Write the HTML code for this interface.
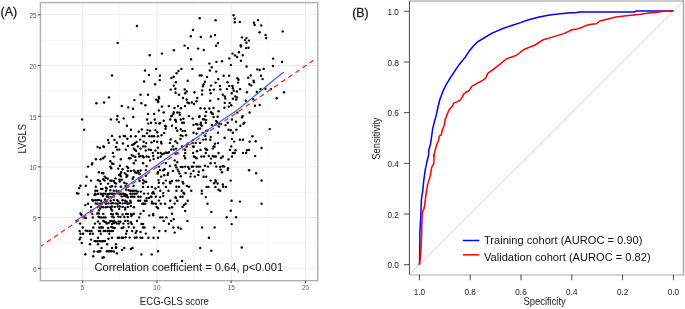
<!DOCTYPE html>
<html><head><meta charset="utf-8"><style>
html,body{margin:0;padding:0;background:#fff;width:685px;height:309px;overflow:hidden}
svg{display:block;font-family:"Liberation Sans",sans-serif;will-change:transform}
</style></head><body>
<svg width="685" height="309" viewBox="0 0 685 309">
<rect width="685" height="309" fill="#fff"/>
<line x1="45.45" y1="2.6" x2="45.45" y2="280.7" stroke="#f2f2f2" stroke-width="0.6"/>
<line x1="119.75" y1="2.6" x2="119.75" y2="280.7" stroke="#f2f2f2" stroke-width="0.6"/>
<line x1="194.05" y1="2.6" x2="194.05" y2="280.7" stroke="#f2f2f2" stroke-width="0.6"/>
<line x1="268.35" y1="2.6" x2="268.35" y2="280.7" stroke="#f2f2f2" stroke-width="0.6"/>
<line x1="40.4" y1="242.95" x2="317.8" y2="242.95" stroke="#f2f2f2" stroke-width="0.6"/>
<line x1="40.4" y1="192.25" x2="317.8" y2="192.25" stroke="#f2f2f2" stroke-width="0.6"/>
<line x1="40.4" y1="141.55" x2="317.8" y2="141.55" stroke="#f2f2f2" stroke-width="0.6"/>
<line x1="40.4" y1="90.85" x2="317.8" y2="90.85" stroke="#f2f2f2" stroke-width="0.6"/>
<line x1="40.4" y1="40.15" x2="317.8" y2="40.15" stroke="#f2f2f2" stroke-width="0.6"/>
<line x1="82.60" y1="2.6" x2="82.60" y2="280.7" stroke="#ebebeb" stroke-width="1"/>
<line x1="156.90" y1="2.6" x2="156.90" y2="280.7" stroke="#ebebeb" stroke-width="1"/>
<line x1="231.20" y1="2.6" x2="231.20" y2="280.7" stroke="#ebebeb" stroke-width="1"/>
<line x1="305.50" y1="2.6" x2="305.50" y2="280.7" stroke="#ebebeb" stroke-width="1"/>
<line x1="40.4" y1="268.30" x2="317.8" y2="268.30" stroke="#ebebeb" stroke-width="1"/>
<line x1="40.4" y1="217.60" x2="317.8" y2="217.60" stroke="#ebebeb" stroke-width="1"/>
<line x1="40.4" y1="166.90" x2="317.8" y2="166.90" stroke="#ebebeb" stroke-width="1"/>
<line x1="40.4" y1="116.20" x2="317.8" y2="116.20" stroke="#ebebeb" stroke-width="1"/>
<line x1="40.4" y1="65.50" x2="317.8" y2="65.50" stroke="#ebebeb" stroke-width="1"/>
<line x1="40.4" y1="14.80" x2="317.8" y2="14.80" stroke="#ebebeb" stroke-width="1"/>
<g fill="#000">
<circle cx="136.9" cy="26.0" r="1.2"/><circle cx="117.7" cy="42.9" r="1.2"/><circle cx="149.7" cy="55.2" r="1.2"/><circle cx="162.0" cy="53.6" r="1.2"/><circle cx="199.7" cy="18.2" r="1.2"/><circle cx="215.6" cy="20.3" r="1.2"/><circle cx="193.0" cy="29.9" r="1.2"/><circle cx="190.8" cy="36.2" r="1.2"/><circle cx="200.8" cy="37.0" r="1.2"/><circle cx="210.9" cy="36.5" r="1.2"/><circle cx="215.0" cy="35.1" r="1.2"/><circle cx="217.9" cy="43.1" r="1.2"/><circle cx="216.1" cy="45.8" r="1.2"/><circle cx="184.6" cy="45.6" r="1.2"/><circle cx="188.0" cy="48.1" r="1.2"/><circle cx="198.1" cy="48.6" r="1.2"/><circle cx="203.8" cy="50.0" r="1.2"/><circle cx="173.9" cy="50.2" r="1.2"/><circle cx="191.0" cy="59.3" r="1.2"/><circle cx="229.3" cy="58.4" r="1.2"/><circle cx="233.6" cy="15.2" r="1.2"/><circle cx="234.6" cy="18.7" r="1.2"/><circle cx="234.8" cy="22.3" r="1.2"/><circle cx="239.8" cy="21.9" r="1.2"/><circle cx="254.0" cy="22.8" r="1.2"/><circle cx="254.6" cy="24.9" r="1.2"/><circle cx="258.0" cy="20.1" r="1.2"/><circle cx="261.2" cy="25.5" r="1.2"/><circle cx="259.6" cy="32.3" r="1.2"/><circle cx="265.6" cy="34.9" r="1.2"/><circle cx="266.2" cy="38.0" r="1.2"/><circle cx="282.7" cy="31.4" r="1.2"/><circle cx="241.9" cy="37.4" r="1.2"/><circle cx="245.0" cy="40.1" r="1.2"/><circle cx="246.4" cy="38.1" r="1.2"/><circle cx="246.4" cy="42.8" r="1.2"/><circle cx="248.9" cy="40.6" r="1.2"/><circle cx="240.7" cy="45.3" r="1.2"/><circle cx="241.0" cy="46.5" r="1.2"/><circle cx="246.0" cy="48.1" r="1.2"/><circle cx="248.5" cy="47.7" r="1.2"/><circle cx="238.9" cy="52.2" r="1.2"/><circle cx="232.5" cy="53.6" r="1.2"/><circle cx="235.0" cy="55.4" r="1.2"/><circle cx="237.1" cy="57.0" r="1.2"/><circle cx="242.8" cy="55.2" r="1.2"/><circle cx="273.1" cy="58.6" r="1.2"/><circle cx="112.0" cy="75.5" r="1.2"/><circle cx="109.0" cy="97.4" r="1.2"/><circle cx="104.0" cy="102.5" r="1.2"/><circle cx="96.4" cy="103.3" r="1.2"/><circle cx="121.8" cy="105.9" r="1.2"/><circle cx="128.2" cy="107.4" r="1.2"/><circle cx="145.0" cy="70.5" r="1.2"/><circle cx="156.2" cy="68.9" r="1.2"/><circle cx="148.9" cy="74.9" r="1.2"/><circle cx="159.9" cy="75.7" r="1.2"/><circle cx="144.1" cy="81.5" r="1.2"/><circle cx="159.8" cy="80.1" r="1.2"/><circle cx="155.1" cy="84.3" r="1.2"/><circle cx="181.4" cy="68.9" r="1.2"/><circle cx="178.5" cy="71.0" r="1.2"/><circle cx="176.6" cy="73.3" r="1.2"/><circle cx="173.7" cy="76.7" r="1.2"/><circle cx="171.4" cy="78.0" r="1.2"/><circle cx="175.9" cy="82.2" r="1.2"/><circle cx="187.7" cy="80.7" r="1.2"/><circle cx="173.8" cy="85.6" r="1.2"/><circle cx="170.8" cy="89.6" r="1.2"/><circle cx="175.4" cy="88.8" r="1.2"/><circle cx="175.6" cy="92.8" r="1.2"/><circle cx="179.0" cy="94.8" r="1.2"/><circle cx="184.7" cy="89.4" r="1.2"/><circle cx="186.6" cy="91.5" r="1.2"/><circle cx="185.1" cy="93.2" r="1.2"/><circle cx="183.0" cy="98.0" r="1.2"/><circle cx="186.6" cy="99.5" r="1.2"/><circle cx="187.4" cy="102.4" r="1.2"/><circle cx="140.5" cy="94.8" r="1.2"/><circle cx="148.0" cy="94.8" r="1.2"/><circle cx="134.4" cy="100.1" r="1.2"/><circle cx="141.3" cy="103.3" r="1.2"/><circle cx="145.4" cy="105.3" r="1.2"/><circle cx="132.9" cy="108.8" r="1.2"/><circle cx="158.8" cy="96.9" r="1.2"/><circle cx="159.1" cy="98.5" r="1.2"/><circle cx="156.2" cy="99.6" r="1.2"/><circle cx="158.0" cy="100.8" r="1.2"/><circle cx="158.3" cy="102.0" r="1.2"/><circle cx="161.9" cy="106.6" r="1.2"/><circle cx="168.8" cy="106.1" r="1.2"/><circle cx="174.5" cy="108.0" r="1.2"/><circle cx="178.0" cy="106.1" r="1.2"/><circle cx="180.9" cy="108.2" r="1.2"/><circle cx="185.0" cy="106.1" r="1.2"/><circle cx="189.0" cy="103.3" r="1.2"/><circle cx="209.4" cy="63.6" r="1.2"/><circle cx="216.4" cy="61.9" r="1.2"/><circle cx="222.0" cy="61.3" r="1.2"/><circle cx="211.8" cy="67.3" r="1.2"/><circle cx="209.9" cy="70.5" r="1.2"/><circle cx="216.2" cy="71.6" r="1.2"/><circle cx="192.4" cy="68.9" r="1.2"/><circle cx="230.9" cy="64.9" r="1.2"/><circle cx="240.9" cy="60.8" r="1.2"/><circle cx="246.6" cy="66.5" r="1.2"/><circle cx="199.7" cy="75.5" r="1.2"/><circle cx="201.6" cy="75.5" r="1.2"/><circle cx="207.0" cy="77.0" r="1.2"/><circle cx="223.6" cy="75.7" r="1.2"/><circle cx="229.1" cy="75.7" r="1.2"/><circle cx="218.3" cy="79.1" r="1.2"/><circle cx="237.4" cy="78.3" r="1.2"/><circle cx="238.5" cy="79.7" r="1.2"/><circle cx="248.2" cy="77.8" r="1.2"/><circle cx="204.9" cy="81.8" r="1.2"/><circle cx="203.7" cy="84.3" r="1.2"/><circle cx="202.9" cy="86.2" r="1.2"/><circle cx="211.0" cy="85.6" r="1.2"/><circle cx="215.6" cy="82.6" r="1.2"/><circle cx="219.9" cy="85.9" r="1.2"/><circle cx="227.5" cy="82.2" r="1.2"/><circle cx="229.3" cy="85.9" r="1.2"/><circle cx="232.4" cy="85.9" r="1.2"/><circle cx="238.0" cy="82.6" r="1.2"/><circle cx="249.4" cy="84.3" r="1.2"/><circle cx="202.1" cy="90.4" r="1.2"/><circle cx="209.9" cy="89.9" r="1.2"/><circle cx="210.7" cy="93.2" r="1.2"/><circle cx="213.9" cy="89.6" r="1.2"/><circle cx="220.4" cy="89.4" r="1.2"/><circle cx="226.9" cy="89.1" r="1.2"/><circle cx="232.9" cy="88.3" r="1.2"/><circle cx="233.7" cy="90.7" r="1.2"/><circle cx="236.9" cy="91.5" r="1.2"/><circle cx="240.1" cy="89.1" r="1.2"/><circle cx="194.5" cy="92.3" r="1.2"/><circle cx="202.1" cy="94.4" r="1.2"/><circle cx="222.8" cy="94.8" r="1.2"/><circle cx="224.8" cy="96.4" r="1.2"/><circle cx="225.3" cy="98.5" r="1.2"/><circle cx="218.3" cy="99.1" r="1.2"/><circle cx="231.7" cy="93.2" r="1.2"/><circle cx="235.3" cy="96.4" r="1.2"/><circle cx="236.9" cy="97.5" r="1.2"/><circle cx="232.9" cy="98.8" r="1.2"/><circle cx="236.1" cy="99.6" r="1.2"/><circle cx="246.9" cy="92.3" r="1.2"/><circle cx="197.3" cy="98.0" r="1.2"/><circle cx="196.5" cy="101.2" r="1.2"/><circle cx="210.2" cy="100.8" r="1.2"/><circle cx="194.0" cy="104.0" r="1.2"/><circle cx="191.9" cy="102.4" r="1.2"/><circle cx="224.8" cy="102.9" r="1.2"/><circle cx="229.6" cy="102.9" r="1.2"/><circle cx="231.2" cy="105.3" r="1.2"/><circle cx="224.4" cy="107.7" r="1.2"/><circle cx="209.4" cy="108.5" r="1.2"/><circle cx="204.6" cy="108.5" r="1.2"/><circle cx="200.5" cy="108.2" r="1.2"/><circle cx="213.5" cy="108.0" r="1.2"/><circle cx="228.8" cy="106.6" r="1.2"/><circle cx="245.8" cy="100.8" r="1.2"/><circle cx="282.0" cy="61.9" r="1.2"/><circle cx="273.0" cy="66.0" r="1.2"/><circle cx="257.3" cy="69.4" r="1.2"/><circle cx="259.7" cy="70.0" r="1.2"/><circle cx="263.7" cy="68.9" r="1.2"/><circle cx="250.8" cy="75.4" r="1.2"/><circle cx="261.0" cy="75.7" r="1.2"/><circle cx="262.6" cy="79.1" r="1.2"/><circle cx="253.6" cy="80.7" r="1.2"/><circle cx="254.0" cy="82.2" r="1.2"/><circle cx="251.3" cy="85.4" r="1.2"/><circle cx="260.5" cy="89.1" r="1.2"/><circle cx="265.4" cy="88.8" r="1.2"/><circle cx="271.0" cy="89.1" r="1.2"/><circle cx="256.8" cy="92.0" r="1.2"/><circle cx="284.0" cy="92.3" r="1.2"/><circle cx="276.7" cy="98.3" r="1.2"/><circle cx="253.2" cy="99.3" r="1.2"/><circle cx="254.9" cy="105.8" r="1.2"/><circle cx="259.7" cy="105.0" r="1.2"/><circle cx="82.1" cy="119.4" r="1.2"/><circle cx="84.2" cy="129.7" r="1.2"/><circle cx="110.9" cy="119.4" r="1.2"/><circle cx="117.4" cy="116.0" r="1.2"/><circle cx="116.9" cy="119.4" r="1.2"/><circle cx="118.8" cy="122.1" r="1.2"/><circle cx="123.7" cy="118.4" r="1.2"/><circle cx="126.9" cy="125.8" r="1.2"/><circle cx="112.0" cy="135.9" r="1.2"/><circle cx="108.0" cy="139.9" r="1.2"/><circle cx="108.8" cy="142.8" r="1.2"/><circle cx="114.5" cy="139.9" r="1.2"/><circle cx="116.9" cy="142.8" r="1.2"/><circle cx="119.8" cy="136.7" r="1.2"/><circle cx="123.7" cy="135.9" r="1.2"/><circle cx="125.0" cy="136.2" r="1.2"/><circle cx="127.4" cy="138.8" r="1.2"/><circle cx="123.0" cy="143.5" r="1.2"/><circle cx="97.5" cy="146.9" r="1.2"/><circle cx="99.9" cy="148.0" r="1.2"/><circle cx="103.2" cy="146.4" r="1.2"/><circle cx="104.0" cy="146.9" r="1.2"/><circle cx="116.1" cy="146.9" r="1.2"/><circle cx="117.2" cy="149.6" r="1.2"/><circle cx="119.3" cy="149.6" r="1.2"/><circle cx="125.8" cy="149.6" r="1.2"/><circle cx="127.9" cy="145.9" r="1.2"/><circle cx="112.9" cy="152.9" r="1.2"/><circle cx="113.7" cy="156.6" r="1.2"/><circle cx="104.8" cy="156.6" r="1.2"/><circle cx="103.2" cy="158.2" r="1.2"/><circle cx="100.7" cy="159.3" r="1.2"/><circle cx="95.9" cy="159.3" r="1.2"/><circle cx="120.9" cy="159.3" r="1.2"/><circle cx="129.0" cy="158.2" r="1.2"/><circle cx="158.9" cy="110.4" r="1.2"/><circle cx="148.0" cy="113.9" r="1.2"/><circle cx="154.1" cy="113.9" r="1.2"/><circle cx="163.7" cy="112.5" r="1.2"/><circle cx="133.3" cy="117.0" r="1.2"/><circle cx="147.1" cy="119.5" r="1.2"/><circle cx="154.7" cy="119.5" r="1.2"/><circle cx="163.7" cy="120.7" r="1.2"/><circle cx="148.2" cy="123.6" r="1.2"/><circle cx="151.0" cy="122.7" r="1.2"/><circle cx="155.8" cy="123.1" r="1.2"/><circle cx="159.3" cy="123.6" r="1.2"/><circle cx="160.2" cy="123.0" r="1.2"/><circle cx="165.0" cy="125.8" r="1.2"/><circle cx="165.9" cy="126.5" r="1.2"/><circle cx="165.5" cy="128.8" r="1.2"/><circle cx="172.0" cy="125.8" r="1.2"/><circle cx="170.3" cy="119.5" r="1.2"/><circle cx="173.8" cy="112.2" r="1.2"/><circle cx="173.4" cy="113.9" r="1.2"/><circle cx="172.0" cy="115.7" r="1.2"/><circle cx="171.2" cy="116.3" r="1.2"/><circle cx="177.3" cy="112.5" r="1.2"/><circle cx="179.5" cy="112.6" r="1.2"/><circle cx="179.9" cy="114.8" r="1.2"/><circle cx="175.5" cy="120.3" r="1.2"/><circle cx="176.0" cy="121.8" r="1.2"/><circle cx="175.1" cy="119.6" r="1.2"/><circle cx="180.8" cy="119.5" r="1.2"/><circle cx="183.4" cy="118.8" r="1.2"/><circle cx="182.1" cy="122.7" r="1.2"/><circle cx="183.9" cy="122.7" r="1.2"/><circle cx="176.0" cy="128.0" r="1.2"/><circle cx="177.3" cy="130.8" r="1.2"/><circle cx="180.8" cy="129.3" r="1.2"/><circle cx="182.6" cy="131.0" r="1.2"/><circle cx="185.2" cy="131.0" r="1.2"/><circle cx="180.8" cy="135.3" r="1.2"/><circle cx="186.1" cy="135.3" r="1.2"/><circle cx="188.9" cy="116.1" r="1.2"/><circle cx="130.9" cy="129.7" r="1.2"/><circle cx="138.8" cy="131.7" r="1.2"/><circle cx="141.8" cy="129.4" r="1.2"/><circle cx="147.5" cy="130.1" r="1.2"/><circle cx="150.1" cy="130.8" r="1.2"/><circle cx="147.1" cy="133.2" r="1.2"/><circle cx="155.4" cy="130.1" r="1.2"/><circle cx="157.2" cy="132.3" r="1.2"/><circle cx="161.5" cy="135.3" r="1.2"/><circle cx="164.2" cy="132.9" r="1.2"/><circle cx="130.9" cy="136.3" r="1.2"/><circle cx="135.7" cy="136.3" r="1.2"/><circle cx="142.7" cy="136.1" r="1.2"/><circle cx="144.5" cy="136.1" r="1.2"/><circle cx="149.4" cy="136.3" r="1.2"/><circle cx="151.9" cy="136.3" r="1.2"/><circle cx="154.1" cy="136.3" r="1.2"/><circle cx="158.0" cy="136.3" r="1.2"/><circle cx="182.6" cy="136.1" r="1.2"/><circle cx="140.1" cy="139.6" r="1.2"/><circle cx="143.6" cy="141.8" r="1.2"/><circle cx="146.2" cy="143.1" r="1.2"/><circle cx="151.5" cy="142.4" r="1.2"/><circle cx="154.1" cy="141.0" r="1.2"/><circle cx="157.2" cy="141.8" r="1.2"/><circle cx="161.1" cy="142.0" r="1.2"/><circle cx="161.5" cy="143.6" r="1.2"/><circle cx="133.5" cy="144.2" r="1.2"/><circle cx="134.8" cy="143.3" r="1.2"/><circle cx="136.6" cy="142.0" r="1.2"/><circle cx="132.2" cy="145.1" r="1.2"/><circle cx="137.9" cy="146.4" r="1.2"/><circle cx="143.1" cy="146.4" r="1.2"/><circle cx="145.3" cy="146.4" r="1.2"/><circle cx="140.5" cy="148.6" r="1.2"/><circle cx="133.9" cy="148.6" r="1.2"/><circle cx="134.8" cy="149.9" r="1.2"/><circle cx="136.1" cy="150.8" r="1.2"/><circle cx="145.8" cy="150.6" r="1.2"/><circle cx="148.8" cy="149.5" r="1.2"/><circle cx="151.0" cy="149.9" r="1.2"/><circle cx="155.4" cy="150.6" r="1.2"/><circle cx="158.0" cy="147.7" r="1.2"/><circle cx="152.8" cy="153.0" r="1.2"/><circle cx="158.0" cy="153.0" r="1.2"/><circle cx="160.7" cy="153.0" r="1.2"/><circle cx="131.8" cy="155.1" r="1.2"/><circle cx="133.5" cy="156.0" r="1.2"/><circle cx="135.3" cy="156.9" r="1.2"/><circle cx="138.8" cy="153.8" r="1.2"/><circle cx="139.2" cy="156.5" r="1.2"/><circle cx="140.5" cy="156.0" r="1.2"/><circle cx="142.7" cy="156.0" r="1.2"/><circle cx="143.6" cy="157.3" r="1.2"/><circle cx="146.6" cy="156.5" r="1.2"/><circle cx="148.8" cy="156.9" r="1.2"/><circle cx="153.2" cy="156.0" r="1.2"/><circle cx="153.6" cy="159.1" r="1.2"/><circle cx="158.0" cy="157.8" r="1.2"/><circle cx="160.7" cy="156.5" r="1.2"/><circle cx="162.4" cy="154.3" r="1.2"/><circle cx="164.2" cy="153.4" r="1.2"/><circle cx="165.9" cy="152.5" r="1.2"/><circle cx="167.7" cy="153.0" r="1.2"/><circle cx="169.0" cy="152.1" r="1.2"/><circle cx="171.2" cy="149.5" r="1.2"/><circle cx="172.9" cy="146.4" r="1.2"/><circle cx="173.8" cy="149.5" r="1.2"/><circle cx="176.0" cy="148.6" r="1.2"/><circle cx="170.7" cy="139.4" r="1.2"/><circle cx="169.9" cy="142.9" r="1.2"/><circle cx="175.5" cy="141.3" r="1.2"/><circle cx="177.3" cy="143.1" r="1.2"/><circle cx="180.4" cy="138.9" r="1.2"/><circle cx="182.1" cy="146.4" r="1.2"/><circle cx="185.2" cy="149.9" r="1.2"/><circle cx="186.9" cy="146.4" r="1.2"/><circle cx="185.2" cy="153.0" r="1.2"/><circle cx="184.3" cy="156.0" r="1.2"/><circle cx="185.2" cy="158.2" r="1.2"/><circle cx="187.8" cy="143.8" r="1.2"/><circle cx="175.5" cy="153.8" r="1.2"/><circle cx="177.3" cy="153.2" r="1.2"/><circle cx="130.4" cy="158.2" r="1.2"/><circle cx="206.2" cy="111.9" r="1.2"/><circle cx="211.0" cy="112.2" r="1.2"/><circle cx="212.3" cy="113.5" r="1.2"/><circle cx="212.8" cy="113.9" r="1.2"/><circle cx="218.5" cy="111.3" r="1.2"/><circle cx="199.6" cy="116.1" r="1.2"/><circle cx="199.2" cy="117.0" r="1.2"/><circle cx="205.3" cy="116.0" r="1.2"/><circle cx="213.6" cy="117.0" r="1.2"/><circle cx="217.6" cy="116.8" r="1.2"/><circle cx="192.6" cy="118.6" r="1.2"/><circle cx="203.1" cy="119.2" r="1.2"/><circle cx="204.5" cy="119.6" r="1.2"/><circle cx="206.2" cy="120.1" r="1.2"/><circle cx="200.9" cy="122.7" r="1.2"/><circle cx="205.8" cy="122.7" r="1.2"/><circle cx="200.5" cy="124.5" r="1.2"/><circle cx="201.8" cy="125.8" r="1.2"/><circle cx="193.5" cy="124.9" r="1.2"/><circle cx="196.1" cy="124.0" r="1.2"/><circle cx="197.4" cy="124.5" r="1.2"/><circle cx="216.3" cy="120.9" r="1.2"/><circle cx="217.2" cy="122.3" r="1.2"/><circle cx="218.9" cy="123.6" r="1.2"/><circle cx="221.1" cy="124.0" r="1.2"/><circle cx="211.9" cy="125.1" r="1.2"/><circle cx="215.8" cy="124.5" r="1.2"/><circle cx="218.9" cy="126.6" r="1.2"/><circle cx="225.5" cy="125.1" r="1.2"/><circle cx="227.7" cy="122.7" r="1.2"/><circle cx="232.0" cy="119.5" r="1.2"/><circle cx="236.0" cy="121.8" r="1.2"/><circle cx="242.6" cy="116.1" r="1.2"/><circle cx="242.1" cy="117.4" r="1.2"/><circle cx="244.3" cy="122.7" r="1.2"/><circle cx="243.4" cy="123.8" r="1.2"/><circle cx="240.4" cy="125.8" r="1.2"/><circle cx="237.3" cy="112.6" r="1.2"/><circle cx="249.6" cy="112.5" r="1.2"/><circle cx="198.3" cy="128.8" r="1.2"/><circle cx="200.1" cy="128.4" r="1.2"/><circle cx="206.2" cy="131.0" r="1.2"/><circle cx="207.5" cy="130.6" r="1.2"/><circle cx="228.5" cy="129.7" r="1.2"/><circle cx="230.7" cy="130.3" r="1.2"/><circle cx="232.9" cy="132.8" r="1.2"/><circle cx="236.4" cy="129.7" r="1.2"/><circle cx="218.0" cy="132.8" r="1.2"/><circle cx="193.5" cy="132.8" r="1.2"/><circle cx="196.6" cy="133.8" r="1.2"/><circle cx="202.7" cy="132.9" r="1.2"/><circle cx="205.3" cy="136.1" r="1.2"/><circle cx="210.8" cy="136.9" r="1.2"/><circle cx="203.1" cy="139.6" r="1.2"/><circle cx="205.8" cy="139.4" r="1.2"/><circle cx="210.3" cy="139.8" r="1.2"/><circle cx="193.1" cy="140.1" r="1.2"/><circle cx="195.7" cy="142.9" r="1.2"/><circle cx="200.1" cy="142.9" r="1.2"/><circle cx="192.6" cy="142.9" r="1.2"/><circle cx="193.1" cy="146.4" r="1.2"/><circle cx="193.9" cy="146.8" r="1.2"/><circle cx="215.0" cy="143.8" r="1.2"/><circle cx="218.0" cy="143.1" r="1.2"/><circle cx="213.6" cy="146.4" r="1.2"/><circle cx="214.5" cy="146.8" r="1.2"/><circle cx="212.8" cy="148.6" r="1.2"/><circle cx="205.3" cy="148.6" r="1.2"/><circle cx="206.2" cy="149.5" r="1.2"/><circle cx="207.1" cy="149.9" r="1.2"/><circle cx="200.5" cy="149.9" r="1.2"/><circle cx="197.0" cy="151.2" r="1.2"/><circle cx="193.1" cy="153.0" r="1.2"/><circle cx="205.8" cy="153.0" r="1.2"/><circle cx="218.5" cy="153.0" r="1.2"/><circle cx="224.6" cy="137.8" r="1.2"/><circle cx="232.0" cy="138.9" r="1.2"/><circle cx="234.2" cy="141.6" r="1.2"/><circle cx="239.9" cy="139.8" r="1.2"/><circle cx="243.0" cy="139.8" r="1.2"/><circle cx="249.6" cy="141.6" r="1.2"/><circle cx="231.2" cy="146.4" r="1.2"/><circle cx="229.9" cy="149.9" r="1.2"/><circle cx="235.5" cy="150.3" r="1.2"/><circle cx="232.9" cy="153.0" r="1.2"/><circle cx="234.7" cy="153.0" r="1.2"/><circle cx="243.0" cy="153.0" r="1.2"/><circle cx="246.1" cy="153.0" r="1.2"/><circle cx="246.9" cy="150.3" r="1.2"/><circle cx="249.1" cy="149.9" r="1.2"/><circle cx="193.9" cy="156.5" r="1.2"/><circle cx="195.3" cy="157.3" r="1.2"/><circle cx="196.6" cy="158.2" r="1.2"/><circle cx="201.4" cy="156.5" r="1.2"/><circle cx="204.0" cy="156.5" r="1.2"/><circle cx="208.8" cy="156.0" r="1.2"/><circle cx="211.0" cy="158.6" r="1.2"/><circle cx="212.8" cy="156.0" r="1.2"/><circle cx="214.1" cy="156.5" r="1.2"/><circle cx="215.8" cy="156.5" r="1.2"/><circle cx="221.1" cy="157.9" r="1.2"/><circle cx="222.8" cy="156.5" r="1.2"/><circle cx="232.0" cy="156.5" r="1.2"/><circle cx="228.5" cy="159.4" r="1.2"/><circle cx="269.7" cy="129.1" r="1.2"/><circle cx="252.4" cy="136.2" r="1.2"/><circle cx="255.7" cy="141.2" r="1.2"/><circle cx="261.6" cy="148.0" r="1.2"/><circle cx="255.2" cy="156.1" r="1.2"/><circle cx="110.3" cy="161.3" r="1.2"/><circle cx="92.3" cy="163.1" r="1.2"/><circle cx="91.9" cy="164.4" r="1.2"/><circle cx="88.0" cy="166.6" r="1.2"/><circle cx="112.0" cy="163.5" r="1.2"/><circle cx="113.4" cy="163.9" r="1.2"/><circle cx="110.3" cy="166.6" r="1.2"/><circle cx="111.2" cy="168.3" r="1.2"/><circle cx="119.9" cy="165.7" r="1.2"/><circle cx="118.2" cy="168.6" r="1.2"/><circle cx="122.6" cy="169.2" r="1.2"/><circle cx="126.9" cy="166.6" r="1.2"/><circle cx="128.2" cy="167.9" r="1.2"/><circle cx="127.8" cy="170.9" r="1.2"/><circle cx="98.9" cy="172.3" r="1.2"/><circle cx="102.0" cy="173.1" r="1.2"/><circle cx="103.3" cy="173.3" r="1.2"/><circle cx="86.6" cy="176.8" r="1.2"/><circle cx="104.6" cy="176.6" r="1.2"/><circle cx="105.9" cy="178.0" r="1.2"/><circle cx="107.7" cy="178.8" r="1.2"/><circle cx="103.3" cy="179.3" r="1.2"/><circle cx="104.6" cy="180.6" r="1.2"/><circle cx="110.3" cy="180.6" r="1.2"/><circle cx="111.6" cy="180.8" r="1.2"/><circle cx="115.5" cy="178.4" r="1.2"/><circle cx="113.8" cy="181.0" r="1.2"/><circle cx="114.7" cy="182.8" r="1.2"/><circle cx="116.0" cy="183.6" r="1.2"/><circle cx="121.2" cy="172.3" r="1.2"/><circle cx="120.4" cy="174.0" r="1.2"/><circle cx="119.1" cy="174.9" r="1.2"/><circle cx="120.8" cy="176.2" r="1.2"/><circle cx="124.7" cy="173.1" r="1.2"/><circle cx="126.1" cy="174.5" r="1.2"/><circle cx="127.4" cy="175.8" r="1.2"/><circle cx="126.5" cy="177.1" r="1.2"/><circle cx="119.5" cy="179.7" r="1.2"/><circle cx="121.7" cy="179.7" r="1.2"/><circle cx="119.9" cy="181.5" r="1.2"/><circle cx="124.3" cy="182.8" r="1.2"/><circle cx="126.5" cy="183.6" r="1.2"/><circle cx="91.0" cy="180.6" r="1.2"/><circle cx="98.0" cy="180.3" r="1.2"/><circle cx="99.8" cy="181.0" r="1.2"/><circle cx="100.7" cy="183.8" r="1.2"/><circle cx="108.1" cy="183.6" r="1.2"/><circle cx="135.7" cy="160.4" r="1.2"/><circle cx="150.1" cy="160.4" r="1.2"/><circle cx="174.7" cy="160.4" r="1.2"/><circle cx="133.9" cy="163.3" r="1.2"/><circle cx="143.1" cy="163.3" r="1.2"/><circle cx="146.6" cy="166.1" r="1.2"/><circle cx="130.9" cy="170.9" r="1.2"/><circle cx="133.9" cy="170.5" r="1.2"/><circle cx="135.3" cy="172.3" r="1.2"/><circle cx="136.6" cy="173.1" r="1.2"/><circle cx="137.9" cy="170.9" r="1.2"/><circle cx="138.8" cy="172.7" r="1.2"/><circle cx="139.6" cy="174.0" r="1.2"/><circle cx="140.5" cy="170.5" r="1.2"/><circle cx="145.8" cy="170.1" r="1.2"/><circle cx="145.8" cy="175.8" r="1.2"/><circle cx="133.5" cy="177.1" r="1.2"/><circle cx="132.6" cy="178.8" r="1.2"/><circle cx="138.8" cy="178.4" r="1.2"/><circle cx="139.6" cy="181.0" r="1.2"/><circle cx="143.1" cy="180.1" r="1.2"/><circle cx="144.9" cy="181.5" r="1.2"/><circle cx="146.2" cy="181.9" r="1.2"/><circle cx="143.1" cy="183.2" r="1.2"/><circle cx="158.9" cy="166.6" r="1.2"/><circle cx="159.8" cy="170.1" r="1.2"/><circle cx="158.0" cy="172.3" r="1.2"/><circle cx="157.6" cy="173.6" r="1.2"/><circle cx="164.6" cy="169.2" r="1.2"/><circle cx="163.3" cy="170.3" r="1.2"/><circle cx="165.9" cy="163.1" r="1.2"/><circle cx="169.9" cy="166.1" r="1.2"/><circle cx="172.9" cy="170.9" r="1.2"/><circle cx="175.5" cy="165.3" r="1.2"/><circle cx="176.4" cy="167.4" r="1.2"/><circle cx="177.7" cy="169.6" r="1.2"/><circle cx="178.6" cy="171.4" r="1.2"/><circle cx="180.8" cy="167.0" r="1.2"/><circle cx="182.6" cy="167.0" r="1.2"/><circle cx="185.2" cy="166.6" r="1.2"/><circle cx="188.2" cy="167.0" r="1.2"/><circle cx="189.1" cy="168.8" r="1.2"/><circle cx="177.3" cy="162.2" r="1.2"/><circle cx="179.5" cy="173.6" r="1.2"/><circle cx="180.8" cy="176.2" r="1.2"/><circle cx="185.6" cy="173.0" r="1.2"/><circle cx="168.1" cy="173.1" r="1.2"/><circle cx="167.7" cy="174.9" r="1.2"/><circle cx="164.2" cy="175.3" r="1.2"/><circle cx="161.1" cy="176.6" r="1.2"/><circle cx="158.5" cy="180.1" r="1.2"/><circle cx="158.9" cy="182.8" r="1.2"/><circle cx="163.3" cy="183.2" r="1.2"/><circle cx="165.9" cy="180.6" r="1.2"/><circle cx="169.9" cy="181.9" r="1.2"/><circle cx="170.3" cy="183.2" r="1.2"/><circle cx="172.0" cy="181.0" r="1.2"/><circle cx="176.4" cy="180.6" r="1.2"/><circle cx="178.6" cy="180.6" r="1.2"/><circle cx="182.6" cy="181.9" r="1.2"/><circle cx="183.4" cy="183.6" r="1.2"/><circle cx="193.9" cy="162.6" r="1.2"/><circle cx="210.6" cy="163.3" r="1.2"/><circle cx="215.0" cy="163.1" r="1.2"/><circle cx="191.8" cy="166.8" r="1.2"/><circle cx="193.1" cy="166.6" r="1.2"/><circle cx="196.6" cy="166.6" r="1.2"/><circle cx="198.3" cy="166.6" r="1.2"/><circle cx="200.1" cy="166.6" r="1.2"/><circle cx="204.9" cy="165.7" r="1.2"/><circle cx="208.0" cy="166.6" r="1.2"/><circle cx="216.3" cy="166.6" r="1.2"/><circle cx="220.2" cy="167.0" r="1.2"/><circle cx="222.8" cy="166.3" r="1.2"/><circle cx="224.2" cy="166.6" r="1.2"/><circle cx="228.1" cy="168.3" r="1.2"/><circle cx="227.7" cy="170.1" r="1.2"/><circle cx="220.7" cy="169.6" r="1.2"/><circle cx="222.0" cy="172.3" r="1.2"/><circle cx="193.5" cy="170.9" r="1.2"/><circle cx="198.8" cy="171.8" r="1.2"/><circle cx="203.1" cy="170.3" r="1.2"/><circle cx="190.9" cy="173.6" r="1.2"/><circle cx="190.4" cy="176.6" r="1.2"/><circle cx="194.8" cy="176.6" r="1.2"/><circle cx="198.3" cy="174.9" r="1.2"/><circle cx="203.6" cy="176.8" r="1.2"/><circle cx="206.2" cy="176.8" r="1.2"/><circle cx="210.6" cy="180.6" r="1.2"/><circle cx="215.4" cy="180.1" r="1.2"/><circle cx="215.8" cy="181.5" r="1.2"/><circle cx="214.1" cy="183.2" r="1.2"/><circle cx="217.6" cy="183.5" r="1.2"/><circle cx="230.7" cy="180.6" r="1.2"/><circle cx="222.8" cy="184.5" r="1.2"/><circle cx="249.1" cy="170.3" r="1.2"/><circle cx="256.1" cy="173.3" r="1.2"/><circle cx="261.6" cy="180.5" r="1.2"/><circle cx="261.6" cy="203.7" r="1.2"/><circle cx="79.2" cy="188.1" r="1.2"/><circle cx="80.5" cy="185.7" r="1.2"/><circle cx="85.8" cy="185.7" r="1.2"/><circle cx="95.8" cy="186.8" r="1.2"/><circle cx="101.1" cy="188.9" r="1.2"/><circle cx="102.4" cy="188.9" r="1.2"/><circle cx="105.9" cy="187.6" r="1.2"/><circle cx="106.8" cy="188.5" r="1.2"/><circle cx="110.3" cy="186.8" r="1.2"/><circle cx="112.0" cy="186.3" r="1.2"/><circle cx="115.5" cy="186.6" r="1.2"/><circle cx="120.8" cy="186.8" r="1.2"/><circle cx="125.6" cy="185.9" r="1.2"/><circle cx="128.2" cy="186.3" r="1.2"/><circle cx="95.4" cy="190.7" r="1.2"/><circle cx="97.2" cy="190.7" r="1.2"/><circle cx="105.9" cy="190.7" r="1.2"/><circle cx="110.3" cy="190.3" r="1.2"/><circle cx="113.8" cy="190.7" r="1.2"/><circle cx="116.4" cy="190.7" r="1.2"/><circle cx="118.6" cy="191.1" r="1.2"/><circle cx="126.1" cy="189.8" r="1.2"/><circle cx="128.7" cy="190.3" r="1.2"/><circle cx="77.0" cy="193.3" r="1.2"/><circle cx="78.3" cy="193.6" r="1.2"/><circle cx="88.0" cy="194.5" r="1.2"/><circle cx="95.0" cy="193.8" r="1.2"/><circle cx="95.8" cy="194.6" r="1.2"/><circle cx="98.0" cy="193.8" r="1.2"/><circle cx="100.7" cy="193.8" r="1.2"/><circle cx="102.4" cy="194.2" r="1.2"/><circle cx="103.7" cy="193.8" r="1.2"/><circle cx="105.5" cy="193.8" r="1.2"/><circle cx="107.7" cy="194.2" r="1.2"/><circle cx="109.4" cy="193.8" r="1.2"/><circle cx="111.2" cy="193.8" r="1.2"/><circle cx="112.9" cy="193.8" r="1.2"/><circle cx="114.7" cy="193.8" r="1.2"/><circle cx="117.3" cy="193.3" r="1.2"/><circle cx="119.9" cy="194.2" r="1.2"/><circle cx="121.7" cy="193.8" r="1.2"/><circle cx="123.4" cy="193.8" r="1.2"/><circle cx="125.2" cy="194.2" r="1.2"/><circle cx="126.9" cy="195.1" r="1.2"/><circle cx="94.5" cy="195.1" r="1.2"/><circle cx="102.8" cy="195.9" r="1.2"/><circle cx="106.8" cy="196.4" r="1.2"/><circle cx="108.5" cy="196.8" r="1.2"/><circle cx="111.2" cy="197.3" r="1.2"/><circle cx="113.8" cy="196.4" r="1.2"/><circle cx="121.7" cy="196.4" r="1.2"/><circle cx="124.3" cy="195.9" r="1.2"/><circle cx="126.1" cy="196.4" r="1.2"/><circle cx="127.8" cy="197.3" r="1.2"/><circle cx="92.3" cy="199.9" r="1.2"/><circle cx="93.2" cy="200.8" r="1.2"/><circle cx="95.4" cy="200.3" r="1.2"/><circle cx="97.2" cy="200.3" r="1.2"/><circle cx="98.9" cy="199.9" r="1.2"/><circle cx="101.1" cy="200.8" r="1.2"/><circle cx="105.0" cy="199.5" r="1.2"/><circle cx="104.6" cy="201.6" r="1.2"/><circle cx="106.8" cy="201.2" r="1.2"/><circle cx="110.7" cy="200.8" r="1.2"/><circle cx="113.8" cy="199.9" r="1.2"/><circle cx="117.3" cy="200.3" r="1.2"/><circle cx="118.2" cy="201.2" r="1.2"/><circle cx="122.6" cy="200.3" r="1.2"/><circle cx="125.2" cy="200.8" r="1.2"/><circle cx="126.9" cy="201.6" r="1.2"/><circle cx="85.3" cy="205.1" r="1.2"/><circle cx="88.0" cy="203.8" r="1.2"/><circle cx="95.8" cy="203.4" r="1.2"/><circle cx="97.6" cy="203.8" r="1.2"/><circle cx="100.2" cy="203.8" r="1.2"/><circle cx="102.0" cy="203.4" r="1.2"/><circle cx="105.9" cy="203.8" r="1.2"/><circle cx="108.5" cy="203.4" r="1.2"/><circle cx="111.2" cy="203.4" r="1.2"/><circle cx="112.9" cy="203.0" r="1.2"/><circle cx="115.5" cy="203.4" r="1.2"/><circle cx="117.7" cy="203.8" r="1.2"/><circle cx="119.9" cy="203.0" r="1.2"/><circle cx="122.6" cy="203.4" r="1.2"/><circle cx="125.2" cy="203.0" r="1.2"/><circle cx="127.4" cy="203.8" r="1.2"/><circle cx="129.1" cy="203.4" r="1.2"/><circle cx="91.0" cy="206.9" r="1.2"/><circle cx="98.9" cy="206.5" r="1.2"/><circle cx="101.5" cy="206.7" r="1.2"/><circle cx="103.3" cy="207.3" r="1.2"/><circle cx="105.9" cy="207.3" r="1.2"/><circle cx="107.7" cy="206.9" r="1.2"/><circle cx="110.3" cy="207.3" r="1.2"/><circle cx="112.0" cy="206.5" r="1.2"/><circle cx="114.7" cy="206.9" r="1.2"/><circle cx="117.7" cy="206.5" r="1.2"/><circle cx="119.9" cy="206.5" r="1.2"/><circle cx="122.6" cy="206.9" r="1.2"/><circle cx="125.2" cy="207.8" r="1.2"/><circle cx="127.8" cy="206.9" r="1.2"/><circle cx="100.2" cy="208.6" r="1.2"/><circle cx="111.2" cy="209.1" r="1.2"/><circle cx="119.1" cy="209.1" r="1.2"/><circle cx="125.2" cy="209.4" r="1.2"/><circle cx="133.5" cy="185.9" r="1.2"/><circle cx="186.9" cy="185.9" r="1.2"/><circle cx="143.1" cy="186.9" r="1.2"/><circle cx="148.0" cy="186.9" r="1.2"/><circle cx="151.9" cy="186.9" r="1.2"/><circle cx="155.4" cy="188.5" r="1.2"/><circle cx="158.5" cy="186.9" r="1.2"/><circle cx="165.9" cy="186.9" r="1.2"/><circle cx="176.4" cy="186.8" r="1.2"/><circle cx="179.1" cy="186.8" r="1.2"/><circle cx="189.1" cy="186.8" r="1.2"/><circle cx="130.4" cy="190.7" r="1.2"/><circle cx="132.2" cy="190.7" r="1.2"/><circle cx="133.9" cy="190.7" r="1.2"/><circle cx="136.1" cy="190.7" r="1.2"/><circle cx="137.9" cy="191.6" r="1.2"/><circle cx="140.9" cy="191.6" r="1.2"/><circle cx="144.0" cy="193.6" r="1.2"/><circle cx="148.0" cy="193.6" r="1.2"/><circle cx="130.4" cy="193.8" r="1.2"/><circle cx="132.6" cy="193.8" r="1.2"/><circle cx="134.8" cy="193.8" r="1.2"/><circle cx="136.6" cy="193.6" r="1.2"/><circle cx="152.3" cy="193.3" r="1.2"/><circle cx="153.2" cy="192.0" r="1.2"/><circle cx="154.1" cy="193.6" r="1.2"/><circle cx="160.2" cy="190.7" r="1.2"/><circle cx="163.3" cy="193.1" r="1.2"/><circle cx="168.5" cy="190.7" r="1.2"/><circle cx="176.4" cy="190.7" r="1.2"/><circle cx="181.7" cy="190.7" r="1.2"/><circle cx="183.4" cy="192.9" r="1.2"/><circle cx="184.3" cy="193.8" r="1.2"/><circle cx="130.9" cy="196.8" r="1.2"/><circle cx="132.6" cy="196.8" r="1.2"/><circle cx="134.4" cy="196.8" r="1.2"/><circle cx="138.3" cy="196.8" r="1.2"/><circle cx="140.5" cy="196.8" r="1.2"/><circle cx="146.6" cy="198.1" r="1.2"/><circle cx="148.8" cy="198.0" r="1.2"/><circle cx="150.6" cy="196.8" r="1.2"/><circle cx="151.5" cy="196.8" r="1.2"/><circle cx="155.8" cy="196.8" r="1.2"/><circle cx="160.2" cy="197.1" r="1.2"/><circle cx="163.3" cy="195.9" r="1.2"/><circle cx="175.5" cy="197.3" r="1.2"/><circle cx="176.0" cy="198.1" r="1.2"/><circle cx="180.4" cy="196.8" r="1.2"/><circle cx="182.6" cy="196.8" r="1.2"/><circle cx="130.4" cy="200.8" r="1.2"/><circle cx="130.9" cy="202.5" r="1.2"/><circle cx="138.3" cy="200.8" r="1.2"/><circle cx="140.1" cy="200.8" r="1.2"/><circle cx="144.9" cy="200.8" r="1.2"/><circle cx="146.6" cy="200.8" r="1.2"/><circle cx="151.9" cy="201.6" r="1.2"/><circle cx="158.9" cy="200.6" r="1.2"/><circle cx="170.3" cy="200.8" r="1.2"/><circle cx="177.3" cy="200.8" r="1.2"/><circle cx="187.8" cy="200.8" r="1.2"/><circle cx="142.3" cy="203.8" r="1.2"/><circle cx="143.6" cy="203.8" r="1.2"/><circle cx="145.3" cy="203.8" r="1.2"/><circle cx="151.9" cy="203.4" r="1.2"/><circle cx="153.6" cy="203.6" r="1.2"/><circle cx="155.8" cy="203.8" r="1.2"/><circle cx="160.7" cy="203.8" r="1.2"/><circle cx="165.0" cy="203.8" r="1.2"/><circle cx="174.7" cy="203.6" r="1.2"/><circle cx="185.6" cy="203.8" r="1.2"/><circle cx="183.9" cy="205.1" r="1.2"/><circle cx="182.6" cy="206.9" r="1.2"/><circle cx="130.9" cy="206.0" r="1.2"/><circle cx="133.9" cy="207.3" r="1.2"/><circle cx="156.7" cy="206.9" r="1.2"/><circle cx="158.0" cy="208.2" r="1.2"/><circle cx="169.4" cy="207.9" r="1.2"/><circle cx="172.0" cy="207.3" r="1.2"/><circle cx="191.3" cy="190.7" r="1.2"/><circle cx="206.6" cy="186.9" r="1.2"/><circle cx="208.4" cy="186.9" r="1.2"/><circle cx="215.4" cy="186.9" r="1.2"/><circle cx="218.5" cy="189.8" r="1.2"/><circle cx="220.2" cy="190.7" r="1.2"/><circle cx="223.3" cy="186.8" r="1.2"/><circle cx="225.9" cy="186.9" r="1.2"/><circle cx="201.8" cy="190.7" r="1.2"/><circle cx="201.8" cy="193.6" r="1.2"/><circle cx="205.8" cy="197.1" r="1.2"/><circle cx="207.5" cy="203.8" r="1.2"/><circle cx="231.6" cy="200.8" r="1.2"/><circle cx="239.9" cy="201.6" r="1.2"/><circle cx="91.0" cy="210.7" r="1.2"/><circle cx="98.9" cy="210.4" r="1.2"/><circle cx="112.0" cy="210.4" r="1.2"/><circle cx="80.5" cy="213.5" r="1.2"/><circle cx="81.4" cy="214.8" r="1.2"/><circle cx="92.3" cy="213.9" r="1.2"/><circle cx="97.2" cy="213.5" r="1.2"/><circle cx="98.9" cy="213.5" r="1.2"/><circle cx="103.3" cy="213.9" r="1.2"/><circle cx="111.2" cy="213.9" r="1.2"/><circle cx="112.9" cy="214.4" r="1.2"/><circle cx="116.4" cy="213.5" r="1.2"/><circle cx="117.7" cy="213.9" r="1.2"/><circle cx="122.6" cy="214.4" r="1.2"/><circle cx="126.1" cy="213.9" r="1.2"/><circle cx="127.8" cy="213.9" r="1.2"/><circle cx="84.0" cy="217.4" r="1.2"/><circle cx="85.8" cy="217.9" r="1.2"/><circle cx="92.8" cy="217.4" r="1.2"/><circle cx="98.5" cy="216.6" r="1.2"/><circle cx="99.8" cy="217.4" r="1.2"/><circle cx="101.5" cy="217.4" r="1.2"/><circle cx="103.7" cy="217.4" r="1.2"/><circle cx="105.5" cy="217.4" r="1.2"/><circle cx="112.0" cy="216.6" r="1.2"/><circle cx="113.8" cy="217.4" r="1.2"/><circle cx="118.2" cy="216.6" r="1.2"/><circle cx="120.4" cy="217.0" r="1.2"/><circle cx="124.3" cy="217.0" r="1.2"/><circle cx="127.8" cy="217.0" r="1.2"/><circle cx="76.6" cy="220.9" r="1.2"/><circle cx="80.1" cy="223.6" r="1.2"/><circle cx="95.0" cy="223.6" r="1.2"/><circle cx="98.0" cy="221.4" r="1.2"/><circle cx="99.8" cy="223.6" r="1.2"/><circle cx="103.3" cy="220.9" r="1.2"/><circle cx="104.6" cy="221.8" r="1.2"/><circle cx="105.9" cy="222.3" r="1.2"/><circle cx="106.8" cy="223.6" r="1.2"/><circle cx="108.5" cy="223.1" r="1.2"/><circle cx="109.9" cy="221.4" r="1.2"/><circle cx="111.2" cy="220.9" r="1.2"/><circle cx="112.9" cy="221.4" r="1.2"/><circle cx="114.2" cy="220.9" r="1.2"/><circle cx="115.5" cy="222.3" r="1.2"/><circle cx="116.9" cy="223.6" r="1.2"/><circle cx="118.6" cy="221.4" r="1.2"/><circle cx="120.4" cy="221.8" r="1.2"/><circle cx="119.1" cy="223.6" r="1.2"/><circle cx="123.4" cy="223.6" r="1.2"/><circle cx="125.2" cy="220.9" r="1.2"/><circle cx="127.8" cy="220.9" r="1.2"/><circle cx="128.2" cy="223.6" r="1.2"/><circle cx="113.8" cy="223.1" r="1.2"/><circle cx="112.0" cy="224.0" r="1.2"/><circle cx="82.7" cy="227.5" r="1.2"/><circle cx="93.2" cy="227.5" r="1.2"/><circle cx="99.3" cy="227.5" r="1.2"/><circle cx="101.1" cy="227.5" r="1.2"/><circle cx="102.8" cy="227.5" r="1.2"/><circle cx="108.1" cy="228.0" r="1.2"/><circle cx="111.2" cy="227.1" r="1.2"/><circle cx="112.9" cy="227.5" r="1.2"/><circle cx="114.7" cy="228.0" r="1.2"/><circle cx="121.7" cy="228.0" r="1.2"/><circle cx="123.4" cy="227.5" r="1.2"/><circle cx="128.7" cy="227.1" r="1.2"/><circle cx="79.6" cy="231.0" r="1.2"/><circle cx="85.8" cy="230.6" r="1.2"/><circle cx="87.5" cy="231.0" r="1.2"/><circle cx="89.7" cy="231.0" r="1.2"/><circle cx="91.5" cy="231.0" r="1.2"/><circle cx="98.9" cy="231.0" r="1.2"/><circle cx="100.2" cy="231.0" r="1.2"/><circle cx="103.7" cy="231.0" r="1.2"/><circle cx="105.5" cy="231.0" r="1.2"/><circle cx="107.7" cy="231.0" r="1.2"/><circle cx="109.4" cy="231.0" r="1.2"/><circle cx="111.2" cy="231.0" r="1.2"/><circle cx="112.9" cy="231.0" r="1.2"/><circle cx="126.9" cy="231.0" r="1.2"/><circle cx="80.5" cy="233.8" r="1.2"/><circle cx="83.1" cy="233.8" r="1.2"/><circle cx="90.1" cy="233.8" r="1.2"/><circle cx="92.8" cy="233.8" r="1.2"/><circle cx="100.7" cy="233.8" r="1.2"/><circle cx="109.4" cy="233.8" r="1.2"/><circle cx="126.1" cy="233.8" r="1.2"/><circle cx="143.6" cy="210.9" r="1.2"/><circle cx="185.2" cy="210.9" r="1.2"/><circle cx="130.9" cy="213.9" r="1.2"/><circle cx="132.2" cy="214.8" r="1.2"/><circle cx="133.9" cy="213.7" r="1.2"/><circle cx="131.3" cy="216.1" r="1.2"/><circle cx="140.5" cy="213.7" r="1.2"/><circle cx="139.2" cy="217.4" r="1.2"/><circle cx="149.3" cy="215.4" r="1.2"/><circle cx="153.2" cy="213.9" r="1.2"/><circle cx="153.2" cy="215.3" r="1.2"/><circle cx="160.2" cy="217.4" r="1.2"/><circle cx="162.4" cy="217.4" r="1.2"/><circle cx="166.4" cy="217.4" r="1.2"/><circle cx="172.0" cy="213.7" r="1.2"/><circle cx="173.8" cy="219.2" r="1.2"/><circle cx="163.7" cy="220.9" r="1.2"/><circle cx="171.2" cy="220.9" r="1.2"/><circle cx="169.0" cy="223.8" r="1.2"/><circle cx="187.4" cy="220.9" r="1.2"/><circle cx="137.0" cy="220.9" r="1.2"/><circle cx="130.9" cy="222.3" r="1.2"/><circle cx="131.8" cy="224.0" r="1.2"/><circle cx="141.4" cy="224.0" r="1.2"/><circle cx="143.1" cy="224.0" r="1.2"/><circle cx="133.9" cy="227.5" r="1.2"/><circle cx="143.1" cy="227.5" r="1.2"/><circle cx="144.5" cy="227.5" r="1.2"/><circle cx="154.1" cy="227.5" r="1.2"/><circle cx="173.4" cy="227.5" r="1.2"/><circle cx="178.2" cy="227.5" r="1.2"/><circle cx="180.8" cy="228.8" r="1.2"/><circle cx="132.2" cy="231.0" r="1.2"/><circle cx="136.6" cy="231.0" r="1.2"/><circle cx="135.7" cy="232.9" r="1.2"/><circle cx="140.5" cy="231.9" r="1.2"/><circle cx="145.8" cy="233.6" r="1.2"/><circle cx="159.3" cy="231.0" r="1.2"/><circle cx="165.5" cy="231.0" r="1.2"/><circle cx="174.7" cy="232.6" r="1.2"/><circle cx="211.3" cy="211.9" r="1.2"/><circle cx="230.8" cy="210.8" r="1.2"/><circle cx="226.7" cy="217.3" r="1.2"/><circle cx="236.1" cy="217.3" r="1.2"/><circle cx="231.7" cy="224.1" r="1.2"/><circle cx="202.1" cy="227.5" r="1.2"/><circle cx="214.6" cy="227.5" r="1.2"/><circle cx="208.9" cy="237.8" r="1.2"/><circle cx="200.2" cy="248.0" r="1.2"/><circle cx="211.3" cy="250.8" r="1.2"/><circle cx="241.8" cy="247.5" r="1.2"/><circle cx="80.5" cy="237.6" r="1.2"/><circle cx="79.6" cy="239.4" r="1.2"/><circle cx="81.8" cy="242.9" r="1.2"/><circle cx="91.0" cy="239.6" r="1.2"/><circle cx="98.0" cy="237.8" r="1.2"/><circle cx="94.5" cy="241.1" r="1.2"/><circle cx="95.8" cy="241.3" r="1.2"/><circle cx="97.6" cy="241.3" r="1.2"/><circle cx="99.3" cy="241.1" r="1.2"/><circle cx="100.7" cy="241.3" r="1.2"/><circle cx="102.4" cy="241.3" r="1.2"/><circle cx="103.7" cy="241.1" r="1.2"/><circle cx="105.0" cy="241.0" r="1.2"/><circle cx="108.5" cy="238.7" r="1.2"/><circle cx="112.0" cy="237.8" r="1.2"/><circle cx="117.7" cy="237.8" r="1.2"/><circle cx="119.1" cy="237.8" r="1.2"/><circle cx="121.7" cy="237.8" r="1.2"/><circle cx="123.0" cy="237.8" r="1.2"/><circle cx="125.6" cy="237.2" r="1.2"/><circle cx="129.6" cy="237.6" r="1.2"/><circle cx="90.0" cy="244.2" r="1.2"/><circle cx="98.0" cy="244.2" r="1.2"/><circle cx="107.2" cy="244.2" r="1.2"/><circle cx="116.0" cy="244.2" r="1.2"/><circle cx="101.5" cy="248.0" r="1.2"/><circle cx="112.0" cy="248.0" r="1.2"/><circle cx="116.0" cy="247.3" r="1.2"/><circle cx="116.0" cy="248.1" r="1.2"/><circle cx="122.1" cy="249.9" r="1.2"/><circle cx="124.3" cy="248.0" r="1.2"/><circle cx="94.1" cy="251.5" r="1.2"/><circle cx="97.6" cy="251.6" r="1.2"/><circle cx="98.9" cy="251.5" r="1.2"/><circle cx="100.2" cy="251.2" r="1.2"/><circle cx="106.8" cy="251.2" r="1.2"/><circle cx="108.5" cy="251.2" r="1.2"/><circle cx="109.9" cy="251.2" r="1.2"/><circle cx="111.6" cy="251.2" r="1.2"/><circle cx="113.8" cy="251.5" r="1.2"/><circle cx="116.9" cy="253.4" r="1.2"/><circle cx="85.3" cy="254.3" r="1.2"/><circle cx="93.2" cy="256.3" r="1.2"/><circle cx="102.4" cy="257.8" r="1.2"/><circle cx="103.7" cy="257.3" r="1.2"/><circle cx="134.8" cy="237.8" r="1.2"/><circle cx="136.6" cy="237.5" r="1.2"/><circle cx="140.5" cy="237.8" r="1.2"/><circle cx="142.3" cy="237.8" r="1.2"/><circle cx="148.4" cy="237.8" r="1.2"/><circle cx="153.5" cy="237.8" r="1.2"/><circle cx="158.0" cy="237.8" r="1.2"/><circle cx="130.9" cy="249.0" r="1.2"/><circle cx="132.5" cy="248.0" r="1.2"/><circle cx="141.4" cy="254.4" r="1.2"/><circle cx="151.7" cy="254.4" r="1.2"/><circle cx="158.0" cy="251.2" r="1.2"/><circle cx="182.1" cy="261.0" r="1.2"/>
</g>
<polyline fill="none" stroke="#3366ff" stroke-width="1.2" points="76.2,220.5 100,205 150,170 180,148.8 237.4,110 283.7,72"/>
<line x1="40.4" y1="246.6" x2="317.8" y2="57.4" stroke="#ff1a1a" stroke-width="1.2" stroke-dasharray="4.8 3.8" stroke-dashoffset="0.85"/>
<rect x="40.4" y="2.6" width="277.40" height="278.10" fill="none" stroke="#b0b0b0" stroke-width="1.4"/>
<line x1="37.8" y1="268.30" x2="40.4" y2="268.30" stroke="#444" stroke-width="1"/>
<text x="36.6" y="271.80" font-size="6.4" fill="#555" text-anchor="end">0</text>
<line x1="37.8" y1="217.60" x2="40.4" y2="217.60" stroke="#444" stroke-width="1"/>
<text x="36.6" y="221.10" font-size="6.4" fill="#555" text-anchor="end">5</text>
<line x1="37.8" y1="166.90" x2="40.4" y2="166.90" stroke="#444" stroke-width="1"/>
<text x="36.6" y="170.40" font-size="6.4" fill="#555" text-anchor="end">10</text>
<line x1="37.8" y1="116.20" x2="40.4" y2="116.20" stroke="#444" stroke-width="1"/>
<text x="36.6" y="119.70" font-size="6.4" fill="#555" text-anchor="end">15</text>
<line x1="37.8" y1="65.50" x2="40.4" y2="65.50" stroke="#444" stroke-width="1"/>
<text x="36.6" y="69.00" font-size="6.4" fill="#555" text-anchor="end">20</text>
<line x1="37.8" y1="14.80" x2="40.4" y2="14.80" stroke="#444" stroke-width="1"/>
<text x="36.6" y="18.30" font-size="6.4" fill="#555" text-anchor="end">25</text>
<line x1="82.60" y1="280.7" x2="82.60" y2="283.0" stroke="#444" stroke-width="1"/>
<text x="82.60" y="290.2" font-size="6.4" fill="#555" text-anchor="middle">5</text>
<line x1="156.90" y1="280.7" x2="156.90" y2="283.0" stroke="#444" stroke-width="1"/>
<text x="156.90" y="290.2" font-size="6.4" fill="#555" text-anchor="middle">10</text>
<line x1="231.20" y1="280.7" x2="231.20" y2="283.0" stroke="#444" stroke-width="1"/>
<text x="231.20" y="290.2" font-size="6.4" fill="#555" text-anchor="middle">15</text>
<line x1="305.50" y1="280.7" x2="305.50" y2="283.0" stroke="#444" stroke-width="1"/>
<text x="305.50" y="290.2" font-size="6.4" fill="#555" text-anchor="middle">20</text>
<text transform="translate(174.4,304.8) scale(0.92,1)" font-size="10.4" fill="#222" text-anchor="middle">ECG-GLS score</text>
<text transform="translate(25.7,138.8) rotate(-90) scale(0.88,1)" font-size="10.6" fill="#222" text-anchor="middle">LVGLS</text>
<text x="0.6" y="16.2" font-size="12.4" fill="#1a1a1a" stroke="#1a1a1a" stroke-width="0.3">(A)</text>
<text x="94.5" y="271" font-size="11.15" fill="#111">Correlation coefficient = 0.64, p&lt;0.001</text>
<line x1="409.4" y1="274.6" x2="683.3" y2="1.2" stroke="#cfcfcf" stroke-width="1"/>
<line x1="409.4" y1="1.0" x2="684" y2="1.0" stroke="#b8b8b8" stroke-width="1.3"/>
<line x1="409.4" y1="275.0" x2="684" y2="275.0" stroke="#c8c8c8" stroke-width="1.6"/>
<line x1="683.5" y1="0.5" x2="683.5" y2="275.6" stroke="#a0a0a0" stroke-width="1.3"/>
<polyline fill="none" stroke="#0000ff" stroke-width="1.5" stroke-linejoin="round" points="419.4,264.7 419.6,260.1 419.8,245.8 419.8,233.6 420.2,225.4 420.8,217.2 421.2,205 421.4,199.8 422.8,190.1 423.8,180.3 425.1,170.6 426.7,162.8 428.6,155 428.7,150.5 430.6,143.7 431.6,136.9 432.6,129.1 434.5,121.4 436.4,114.6 437.4,109.5 439.7,100 443.1,90.9 446.5,84.1 449.9,78.5 454.4,71.7 458.9,64.9 464.6,58.1 469.1,51.3 473.6,45.7 477.5,41.9 484.8,37.5 492.1,33.1 502.3,28.7 512.5,25.2 520.5,22.6 528.7,19.7 539.2,17 549.7,14.9 560.3,13.8 570.8,12.8 575.5,12.8 579.9,11.9 635,11.9 636,11.1 673.4,11.1"/>
<polyline fill="none" stroke="#ff0000" stroke-width="1.5" stroke-linejoin="round" points="419.4,264.7 420.2,259 420.6,254 421.2,245.8 421.6,235.6 421.8,225.4 422.2,214.2 423.2,210.1 423.8,209.5 424.7,205 425.1,201.8 426.3,192 427.7,184.2 429,180.3 430.6,174.5 431.6,167.7 433.9,163.2 434.1,155 433.5,156.3 435.1,150.5 436.4,145.6 438.4,140.8 439.4,135.9 441.3,135 442.3,130.1 444.2,125.2 445.2,119.4 447.1,114.6 449.1,109.7 452.6,105.8 453.9,102.9 457.8,101.6 460.4,99.8 462.3,96.9 463.3,94.6 466.2,92 469.1,90.7 472,86.2 477.9,82.9 481.7,81 485.6,78.4 487.6,73.6 490.5,71.3 494.4,68.7 499.2,64.9 506.6,58.7 516,55.5 524.5,49.2 535,45 543.4,39.7 554,36.6 564.5,33.4 572,29.8 577.3,28.9 582.5,27.2 586,25.4 591.3,24.2 596.5,23.7 600,21 607,19.3 615.8,17 626.3,15.8 638.6,14.5 649,13.1 659.6,11.9 663.1,11.1 673.4,11.1"/>
<line x1="409.4" y1="1.2" x2="409.4" y2="274.6" stroke="#4a4a4a" stroke-width="1"/>
<line x1="404" y1="264.70" x2="409.4" y2="264.70" stroke="#4a4a4a" stroke-width="1"/>
<text x="398.8" y="268.40" font-size="8.2" fill="#222" text-anchor="end">0.0</text>
<line x1="404" y1="214.02" x2="409.4" y2="214.02" stroke="#4a4a4a" stroke-width="1"/>
<text x="398.8" y="217.72" font-size="8.2" fill="#222" text-anchor="end">0.2</text>
<line x1="404" y1="163.34" x2="409.4" y2="163.34" stroke="#4a4a4a" stroke-width="1"/>
<text x="398.8" y="167.04" font-size="8.2" fill="#222" text-anchor="end">0.4</text>
<line x1="404" y1="112.66" x2="409.4" y2="112.66" stroke="#4a4a4a" stroke-width="1"/>
<text x="398.8" y="116.36" font-size="8.2" fill="#222" text-anchor="end">0.6</text>
<line x1="404" y1="61.98" x2="409.4" y2="61.98" stroke="#4a4a4a" stroke-width="1"/>
<text x="398.8" y="65.68" font-size="8.2" fill="#222" text-anchor="end">0.8</text>
<line x1="404" y1="11.30" x2="409.4" y2="11.30" stroke="#4a4a4a" stroke-width="1"/>
<text x="398.8" y="15.00" font-size="8.2" fill="#222" text-anchor="end">1.0</text>
<line x1="419.40" y1="274.6" x2="419.40" y2="280.2" stroke="#4a4a4a" stroke-width="1"/>
<text x="419.40" y="294.8" font-size="8.2" fill="#222" text-anchor="middle">1.0</text>
<line x1="470.20" y1="274.6" x2="470.20" y2="280.2" stroke="#4a4a4a" stroke-width="1"/>
<text x="470.20" y="294.8" font-size="8.2" fill="#222" text-anchor="middle">0.8</text>
<line x1="521.00" y1="274.6" x2="521.00" y2="280.2" stroke="#4a4a4a" stroke-width="1"/>
<text x="521.00" y="294.8" font-size="8.2" fill="#222" text-anchor="middle">0.6</text>
<line x1="571.80" y1="274.6" x2="571.80" y2="280.2" stroke="#4a4a4a" stroke-width="1"/>
<text x="571.80" y="294.8" font-size="8.2" fill="#222" text-anchor="middle">0.4</text>
<line x1="622.60" y1="274.6" x2="622.60" y2="280.2" stroke="#4a4a4a" stroke-width="1"/>
<text x="622.60" y="294.8" font-size="8.2" fill="#222" text-anchor="middle">0.2</text>
<line x1="673.40" y1="274.6" x2="673.40" y2="280.2" stroke="#4a4a4a" stroke-width="1"/>
<text x="673.40" y="294.8" font-size="8.2" fill="#222" text-anchor="middle">0.0</text>
<text transform="translate(544.6,304.9) scale(0.93,1)" font-size="10.1" fill="#222" text-anchor="middle">Specificity</text>
<text transform="translate(379.6,138.6) rotate(-90) scale(0.93,1)" font-size="10.1" fill="#222" text-anchor="middle">Sensitivity</text>
<text x="352.2" y="17.0" font-size="12.2" fill="#1a1a1a" stroke="#1a1a1a" stroke-width="0.3">(B)</text>
<line x1="462.9" y1="240.5" x2="479.3" y2="240.5" stroke="#0000ff" stroke-width="1.5"/>
<line x1="462.9" y1="254.8" x2="479.3" y2="254.8" stroke="#ff0000" stroke-width="1.5"/>
<text x="484" y="243.9" font-size="11.1" fill="#111">Training cohort (AUROC = 0.90)</text>
<text x="484" y="260.9" font-size="11.1" fill="#111">Validation cohort (AUROC = 0.82)</text>
</svg>
</body></html>
